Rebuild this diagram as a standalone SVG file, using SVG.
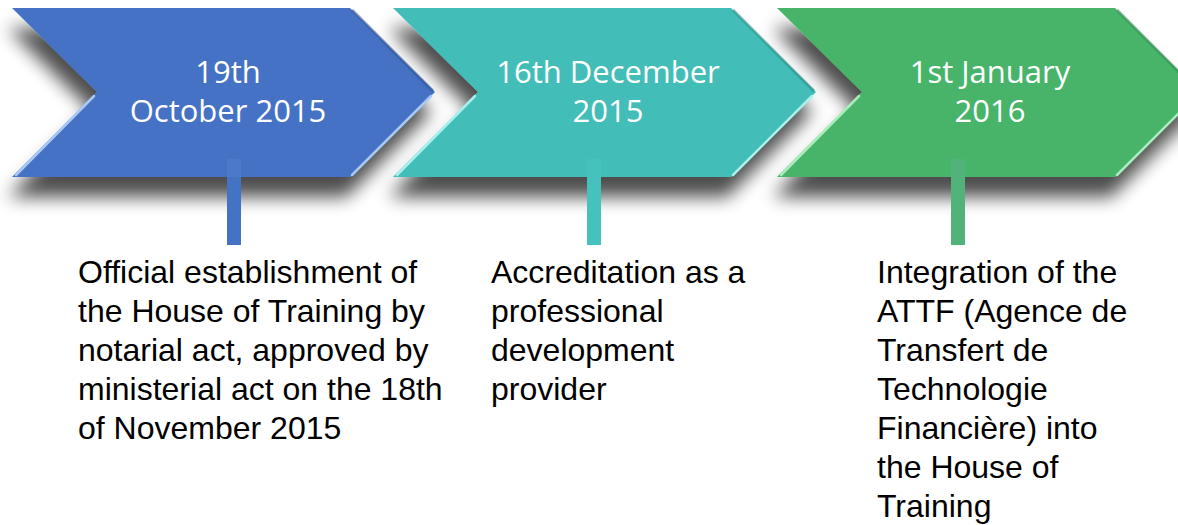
<svg xmlns="http://www.w3.org/2000/svg" width="1178" height="525" viewBox="0 0 1178 525">
  <style>
    .date { font-family: "Open Sans", "Noto Sans", sans-serif; font-size: 31px; fill: #ffffff; text-anchor: middle; }
    .desc { font-family: "Liberation Sans", Arial, sans-serif; font-size: 32px; fill: #000000; }
    .hl { fill: none; stroke-width: 2.5; stroke-linecap: round; }
  </style>
  <defs>
    <filter id="shadow" x="-20%" y="-30%" width="140%" height="190%">
      <feGaussianBlur in="SourceAlpha" stdDeviation="9"/>
      <feOffset dx="-4" dy="20" result="b"/>
      <feComponentTransfer>
        <feFuncA type="linear" slope="0.7"/>
      </feComponentTransfer>
      <feMerge>
        <feMergeNode/>
        <feMergeNode in="SourceGraphic"/>
      </feMerge>
    </filter>
    <path id="chev" d="M0,0 L338,0 L423,84 L338,169 L0,169 L85,84 Z"/>
  </defs>

  <g id="node-1">
    <use href="#chev" x="12" y="8" fill="#4472C4" filter="url(#shadow)"/>
    <path class="hl" d="M94,96 L16,175" stroke="#A9C8F5"/>
    <path class="hl" d="M431,96 L352,175" stroke="#A9C8F5"/>
    <path d="M352,10 L433,91" fill="none" stroke="#35599B" stroke-width="3" opacity="0.6"/>
    <rect x="227" y="159" width="14" height="86" fill="#4472C4"/>
    <rect x="227" y="159" width="14" height="18" fill="#5080D0" opacity="0.6"/>
    <text class="date" x="228" y="83">19th</text>
    <text class="date" x="228" y="122">October 2015</text>
    <text class="desc" x="78" y="283">Official establishment of</text>
    <text class="desc" x="78" y="322">the House of Training by</text>
    <text class="desc" x="78" y="361">notarial act, approved by</text>
    <text class="desc" x="78" y="400">ministerial act on the 18th</text>
    <text class="desc" x="78" y="439">of November 2015</text>
  </g>

  <g id="node-2">
    <use href="#chev" x="393" y="8" fill="#43BDB8" filter="url(#shadow)"/>
    <path class="hl" d="M475,96 L397,175" stroke="#A6F1EE"/>
    <path class="hl" d="M812,96 L733,175" stroke="#A6F1EE"/>
    <path d="M733,10 L814,91" fill="none" stroke="#2E8F8B" stroke-width="3" opacity="0.6"/>
    <rect x="587" y="159" width="14" height="86" fill="#45C1BE"/>
    <text class="date" x="608" y="83">16th December</text>
    <text class="date" x="608" y="122">2015</text>
    <text class="desc" x="491" y="283">Accreditation as a</text>
    <text class="desc" x="491" y="322">professional</text>
    <text class="desc" x="491" y="361">development</text>
    <text class="desc" x="491" y="400">provider</text>
  </g>

  <g id="node-3">
    <use href="#chev" x="777" y="8" fill="#47B46A" filter="url(#shadow)"/>
    <path class="hl" d="M859,96 L781,175" stroke="#A8EDBD"/>
    <path class="hl" d="M1196,96 L1117,175" stroke="#A8EDBD"/>
    <path d="M1117,10 L1198,91" fill="none" stroke="#348A4F" stroke-width="3" opacity="0.6"/>
    <rect x="951" y="159" width="14" height="86" fill="#52B37A"/>
    <text class="date" x="990" y="83">1st January</text>
    <text class="date" x="990" y="122">2016</text>
    <text class="desc" x="877" y="283">Integration of the</text>
    <text class="desc" x="877" y="322">ATTF (Agence de</text>
    <text class="desc" x="877" y="361">Transfert de</text>
    <text class="desc" x="877" y="400">Technologie</text>
    <text class="desc" x="877" y="439">Financière) into</text>
    <text class="desc" x="877" y="478">the House of</text>
    <text class="desc" x="877" y="517">Training</text>
  </g>

  <g id="connectors"></g>
</svg>
